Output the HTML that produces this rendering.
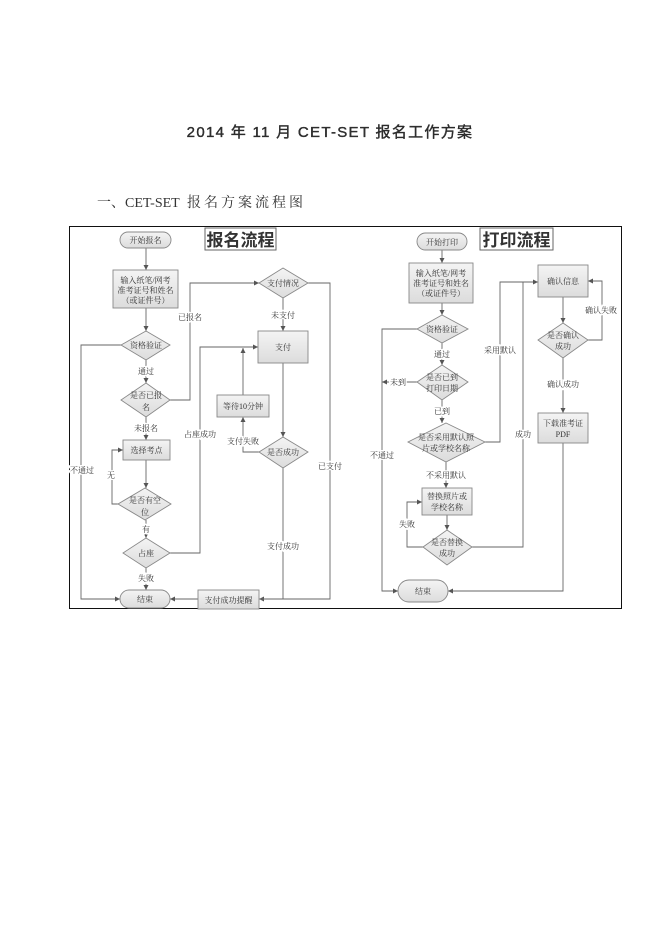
<!DOCTYPE html>
<html><head><meta charset="utf-8"><style>
html,body{margin:0;padding:0;background:#fff;}
svg{display:block;}
text{font-family:"Liberation Serif","Noto Serif CJK SC",serif;fill:#333;}
</style></head><body>
<svg width="662" height="936" viewBox="0 0 662 936" xmlns="http://www.w3.org/2000/svg">
<defs>
<marker id="a" markerWidth="6" markerHeight="6" refX="5" refY="3" orient="auto" markerUnits="userSpaceOnUse"><path d="M0,0.5 L5,3 L0,5.5 z" fill="#555"/></marker>
<linearGradient id="g" x1="0" y1="0" x2="0" y2="1"><stop offset="0" stop-color="#f4f4f4"/><stop offset="1" stop-color="#dcdcdc"/></linearGradient>
</defs>
<text x="330" y="137" text-anchor="middle" font-size="15" stroke="#111" stroke-width="0.35" style="font-family:'Liberation Sans','Noto Sans CJK SC',sans-serif;letter-spacing:1.3px" fill="#111">2014 年 11 月 CET-SET 报名工作方案</text>
<text x="97" y="207" font-size="14" fill="#222">一、CET-SET <tspan dx="4" style="letter-spacing:3px">报名方案流程图</tspan></text>
<rect x="69.5" y="226.5" width="552" height="382" fill="none" stroke="#111" stroke-width="1"/>
<g stroke="#666" stroke-width="0.9" fill="none">
<path d="M146 248V270" marker-end="url(#a)"/>
<path d="M146 308V331" marker-end="url(#a)"/>
<path d="M146 360V383" marker-end="url(#a)"/>
<path d="M170 400H190V283H259" marker-end="url(#a)"/>
<path d="M146 417V440" marker-end="url(#a)"/>
<path d="M146 460V488" marker-end="url(#a)"/>
<path d="M118 504H112V450H123" marker-end="url(#a)"/>
<path d="M146 520V538" marker-end="url(#a)"/>
<path d="M170 553H200V347H258" marker-end="url(#a)"/>
<path d="M146 568V590" marker-end="url(#a)"/>
<path d="M121 345H81V599H120" marker-end="url(#a)"/>
<path d="M283 298V331" marker-end="url(#a)"/>
<path d="M283 363V437" marker-end="url(#a)"/>
<path d="M259 452H243V417" marker-end="url(#a)"/>
<path d="M243 395V348" marker-end="url(#a)"/>
<path d="M283 468V599H259" marker-end="url(#a)"/>
<path d="M308 283H330V599H259"/>
<path d="M198 599H170" marker-end="url(#a)"/>
<path d="M442 250V263" marker-end="url(#a)"/>
<path d="M442 303V315" marker-end="url(#a)"/>
<path d="M442 343V365" marker-end="url(#a)"/>
<path d="M417 382H382" marker-end="url(#a)"/>
<path d="M442 400V423" marker-end="url(#a)"/>
<path d="M485 442H500V282H538" marker-end="url(#a)"/>
<path d="M446 462V488" marker-end="url(#a)"/>
<path d="M447 515V530" marker-end="url(#a)"/>
<path d="M423 547H407V502H422" marker-end="url(#a)"/>
<path d="M472 547H523V282"/>
<path d="M417 329H382V591H398" marker-end="url(#a)"/>
<path d="M563 297V323" marker-end="url(#a)"/>
<path d="M588 340H602V281H588" marker-end="url(#a)"/>
<path d="M563 358V413" marker-end="url(#a)"/>
<path d="M563 443V591H448" marker-end="url(#a)"/>
</g>
<g stroke="#888" stroke-width="0.9" fill="url(#g)">
<rect x="120" y="232" width="51" height="16" rx="8"/>
<rect x="113" y="270" width="65" height="38"/>
<polygon points="146,331 170,345 146,360 121,345"/>
<polygon points="146,383 170,400 146,417 121,400"/>
<rect x="123" y="440" width="47" height="20"/>
<polygon points="145,488 171,504 145,520 118,504"/>
<polygon points="146,538 170,553 146,568 123,553"/>
<rect x="120" y="590" width="50" height="18" rx="9"/>
<rect x="198" y="590" width="61" height="19"/>
<polygon points="283,268 308,283 283,298 259,283"/>
<rect x="258" y="331" width="50" height="32"/>
<rect x="217" y="395" width="52" height="22"/>
<polygon points="283,437 308,452 283,468 259,452"/>
<rect x="417" y="233" width="50" height="17" rx="8.5"/>
<rect x="409" y="263" width="64" height="40"/>
<polygon points="442,315 468,329 442,343 417,329"/>
<polygon points="442,365 468,382 442,400 417,382"/>
<polygon points="446,423 485,442 446,462 408,442"/>
<rect x="422" y="488" width="50" height="27"/>
<polygon points="447,530 472,547 447,565 423,547"/>
<rect x="398" y="580" width="50" height="22" rx="11"/>
<rect x="538" y="265" width="50" height="32"/>
<polygon points="563,323 588,340 563,358 538,340"/>
<rect x="538" y="413" width="50" height="30"/>
</g>
<rect x="205" y="228" width="71" height="22" fill="#fff" stroke="#666"/>
<text x="240.5" y="246" text-anchor="middle" font-size="17" font-weight="bold" fill="#111" style="font-family:'Noto Sans CJK SC',sans-serif">报名流程</text>
<rect x="480" y="228" width="73" height="22" fill="#fff" stroke="#666"/>
<text x="516.5" y="246" text-anchor="middle" font-size="17" font-weight="bold" fill="#111" style="font-family:'Noto Sans CJK SC',sans-serif">打印流程</text>
<g font-size="8" text-anchor="middle">
<text x="145.5" y="243">开始报名</text>
<text x="145.5" y="283">输入纸笔/网考</text><text x="145.5" y="293">准考证号和姓名</text><text x="145.5" y="303">（或证件号）</text>
<text x="146" y="348">资格验证</text>
<text x="146" y="398">是否已报</text><text x="146" y="410">名</text>
<text x="145" y="503">是否有空</text><text x="145" y="515">位</text>
<text x="146.5" y="453">选择考点</text>
<text x="146" y="556">占座</text>
<text x="145" y="602">结束</text>
<text x="228.5" y="603">支付成功提醒</text>
<text x="283" y="286">支付情况</text>
<text x="283" y="350">支付</text>
<text x="243" y="409">等待10分钟</text>
<text x="283" y="455">是否成功</text>
<g style="paint-order:stroke" stroke="#fff" stroke-width="3">
<text x="146" y="374">通过</text>
<text x="190" y="320">已报名</text>
<text x="146" y="431">未报名</text>
<text x="111" y="478">无</text>
<text x="146" y="532">有</text>
<text x="200" y="437">占座成功</text>
<text x="146" y="581">失败</text>
<text x="82" y="473">不通过</text>
<text x="283" y="318">未支付</text>
<text x="243" y="444">支付失败</text>
<text x="283" y="549">支付成功</text>
<text x="330" y="469">已支付</text>
<text x="442" y="357">通过</text>
<text x="398" y="385">未到</text>
<text x="442" y="414">已到</text>
<text x="500" y="353">采用默认</text>
<text x="446" y="478">不采用默认</text>
<text x="407" y="527">失败</text>
<text x="523" y="437">成功</text>
<text x="382" y="458">不通过</text>
<text x="601" y="313">确认失败</text>
<text x="563" y="387">确认成功</text>
</g>
<text x="442" y="245">开始打印</text>
<text x="441" y="276">输入纸笔/网考</text><text x="441" y="286">准考证号和姓名</text><text x="441" y="296">（或证件号）</text>
<text x="442" y="332">资格验证</text>
<text x="442" y="380">是否已到</text><text x="442" y="391">打印日期</text>
<text x="446" y="440">是否采用默认照</text><text x="446" y="451">片或学校名称</text>
<text x="447" y="499">替换照片或</text><text x="447" y="510">学校名称</text>
<text x="447" y="545">是否替换</text><text x="447" y="556">成功</text>
<text x="423" y="594">结束</text>
<text x="563" y="284">确认信息</text>
<text x="563" y="338">是否确认</text><text x="563" y="349">成功</text>
<text x="563" y="426">下载准考证</text><text x="563" y="437">PDF</text>
</g>
</svg>
</body></html>
